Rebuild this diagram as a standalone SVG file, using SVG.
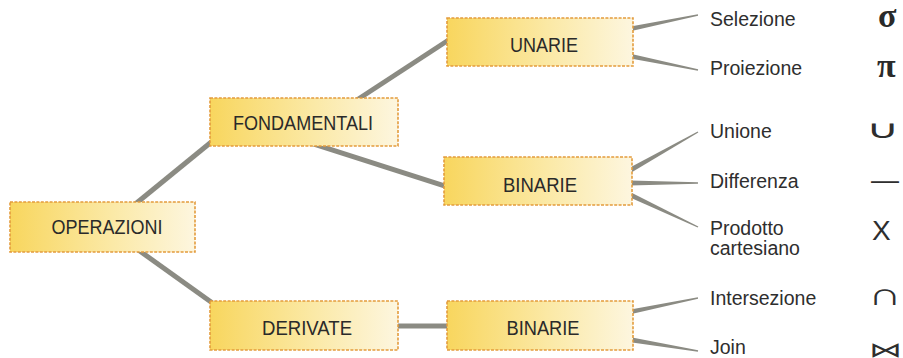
<svg xmlns="http://www.w3.org/2000/svg" width="903" height="358" viewBox="0 0 903 358">
  <defs>
    <linearGradient id="boxFill" x1="0" y1="0" x2="1" y2="0">
      <stop offset="0" stop-color="#f8d65e"/>
      <stop offset="0.55" stop-color="#fbe9a6"/>
      <stop offset="1" stop-color="#fdf6df"/>
    </linearGradient>
  </defs>
  <style>
    .box { fill: url(#boxFill); stroke: #e39c3c; stroke-width: 1.6; stroke-dasharray: 3 1.4; }
    .boxtext { font-family: "Liberation Sans", Arial, sans-serif; font-size: 19.5px; fill: #2a2a2a; text-anchor: middle; }
    .label { font-family: "Liberation Sans", Arial, sans-serif; font-size: 19.5px; fill: #2e2e2e; }
    .sym { font-family: "DejaVu Sans", sans-serif; font-weight: 200; fill: #2e2e2e; font-size: 30px; }
    .glyph { font-family: "Liberation Sans", Arial, sans-serif; fill: #2e2e2e; font-size: 28px; }
    .greek { font-family: "Liberation Serif", "Times New Roman", serif; font-weight: bold; fill: #2a2a2a; font-size: 34px; }
    .link { stroke: #8b8b83; stroke-width: 5; fill: none; }
    .leaf { fill: #8b8b83; }
  </style>

  <!-- connectors -->
  <g id="connectors">
    <line class="link" x1="128" y1="210" x2="226" y2="130"/>
    <line class="link" x1="130" y1="244" x2="225" y2="312"/>
    <line class="link" x1="340" y1="111" x2="470" y2="26"/>
    <line class="link" x1="300" y1="139.6" x2="460" y2="190.8"/>
    <line class="link" x1="390" y1="326" x2="455" y2="326"/>
    <polygon class="leaf" points="620.5,33.6 698.1,15.7 697.9,14.3 619.5,28.4"/>
    <polygon class="leaf" points="619.5,56.6 697.9,70.7 698.1,69.3 620.5,51.4"/>
    <polygon class="leaf" points="621.3,178.4 698.3,132.6 697.7,131.4 618.7,173.6"/>
    <polygon class="leaf" points="620,185.7 698,183.7 698,182.3 620,180.3"/>
    <polygon class="leaf" points="618.8,192.4 697.7,227.6 698.3,226.4 621.2,187.6"/>
    <polygon class="leaf" points="620.5,316.6 698.1,298.7 697.9,297.3 619.5,311.4"/>
    <polygon class="leaf" points="619.6,340.7 697.9,351.7 698.1,350.3 620.4,335.3"/>
  </g>

  <!-- boxes -->
  <g id="operazioni">
    <rect class="box" x="10" y="202" width="185" height="50"/>
    <text class="boxtext" x="107" y="234" textLength="111" lengthAdjust="spacingAndGlyphs">OPERAZIONI</text>
  </g>
  <g id="fondamentali">
    <rect class="box" x="210" y="98" width="188" height="48"/>
    <text class="boxtext" x="303" y="130" textLength="140" lengthAdjust="spacingAndGlyphs">FONDAMENTALI</text>
  </g>
  <g id="derivate">
    <rect class="box" x="210" y="301" width="188" height="49"/>
    <text class="boxtext" x="307" y="335" textLength="90" lengthAdjust="spacingAndGlyphs">DERIVATE</text>
  </g>
  <g id="unarie">
    <rect class="box" x="447" y="18" width="186" height="48"/>
    <text class="boxtext" x="544" y="52" textLength="68" lengthAdjust="spacingAndGlyphs">UNARIE</text>
  </g>
  <g id="binarie-fondamentali">
    <rect class="box" x="444" y="157" width="188" height="48"/>
    <text class="boxtext" x="540" y="192" textLength="74" lengthAdjust="spacingAndGlyphs">BINARIE</text>
  </g>
  <g id="binarie-derivate">
    <rect class="box" x="447" y="301" width="186" height="49"/>
    <text class="boxtext" x="543" y="335" textLength="73" lengthAdjust="spacingAndGlyphs">BINARIE</text>
  </g>

  <!-- leaf operations and their symbols -->
  <g id="selezione">
    <text class="label" x="710" y="26">Selezione</text>
    <text class="greek" x="878" y="27">σ</text>
  </g>
  <g id="proiezione">
    <text class="label" x="710" y="75">Proiezione</text>
    <text class="greek" x="877" y="77">π</text>
  </g>
  <g id="unione">
    <text class="label" x="710" y="138">Unione</text>
    <text class="sym" transform="translate(866,138) scale(1.55,0.85)" x="0" y="0">∪</text>
  </g>
  <g id="differenza">
    <text class="label" x="710" y="188">Differenza</text>
    <text class="glyph" x="871" y="189">—</text>
  </g>
  <g id="prodotto">
    <text class="label" x="710" y="235">Prodotto</text>
    <text class="label" x="710" y="254.5">cartesiano</text>
    <text class="glyph" x="872" y="240">X</text>
  </g>
  <g id="intersezione">
    <text class="label" x="710" y="305">Intersezione</text>
    <text class="sym" transform="translate(868,305) scale(1.55,1.05)" x="0" y="0">∩</text>
  </g>
  <g id="join">
    <text class="label" x="710" y="354">Join</text>
    <text class="sym" transform="translate(869,357) scale(1.1,0.7)" x="0" y="0">⋈</text>
  </g>
</svg>
